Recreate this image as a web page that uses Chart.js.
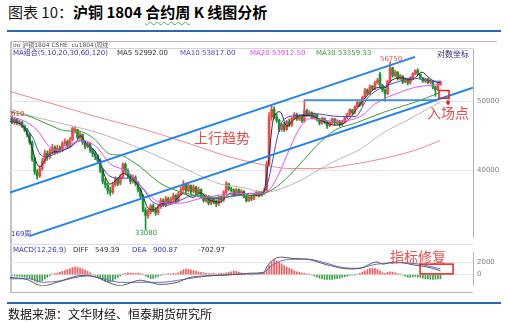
<!DOCTYPE html>
<html lang="zh-CN">
<head>
<meta charset="utf-8">
<title>沪铜 1804 合约周 K 线图分析</title>
<script src="https://cdn.jsdelivr.net/npm/chart.js@4.4.1/dist/chart.umd.min.js"></script>
<style>
  body { margin: 0; background: #fff; }
  #page { position: relative; width: 510px; height: 322px; overflow: hidden; font-family: "DejaVu Sans", "Noto Sans CJK SC", sans-serif; }
  #page > * { position: absolute; }
  #title { left: 8px; top: 2px; font-family: "Noto Sans CJK SC", sans-serif; font-size: 15px; line-height: 20px; color: #1a1a1a; white-space: nowrap; }
  #title b { font-weight: 700; color: #000; }
  #title u { text-decoration: underline wavy #4caf50; text-underline-offset: 3px; text-decoration-thickness: 1px; }
  .rule { left: 7px; width: 494px; height: 2px; background: #2f66ae; }
  .ln { background: #b8b8b8; }
  .lg { font-size: 7px; line-height: 8px; white-space: nowrap; }
  #source { left: 8px; top: 306px; font-family: "Noto Sans CJK SC", sans-serif; font-size: 12px; line-height: 16px; color: #111; }
</style>
</head>
<body>
<div id="page">
  <div id="title">图表 10：<b>沪铜 1804 <u>合约周</u> K 线图分析</b></div>
  <div class="rule" style="top:30px"></div>

  <!-- frame of the chart panel -->
  <div class="ln" style="left:10px;top:41px;width:487px;height:1px"></div>
  <div class="ln" style="left:10px;top:41px;width:2px;height:252px;background:#c4c4c4"></div>
  <div class="ln" style="left:10px;top:48px;width:463px;height:1px;background:#d4d4d4"></div>
  <div class="ln" style="left:10px;top:244px;width:463px;height:1px;background:#dedede"></div>
  <div class="ln" style="left:10px;top:292px;width:463px;height:1px"></div>

  <canvas id="priceChart" width="510" height="205" style="left:0;top:41px"></canvas>
  <canvas id="macdChart" width="510" height="50" style="left:0;top:244px"></canvas>

  <div class="lg" style="left:13px;top:41px;font-size:6px;color:#555">oo 沪铜1804 CSHE&nbsp; cu1804)周线</div>
  <div class="lg" style="left:13px;top:49px;color:#3535c0">MA组合(5,10,20,30,60,120)</div>
  <div class="lg" style="left:117px;top:49px;color:#333">MA5 52992.00</div>
  <div class="lg" style="left:180px;top:49px;color:#4a4ad0">MA10 53817.00</div>
  <div class="lg" style="left:250px;top:49px;color:#f040f0">MA20 53912.50</div>
  <div class="lg" style="left:316px;top:49px;color:#3a9a3a">MA30 53359.33</div>
  <div class="lg" style="left:437px;top:50px;font-size:8px;line-height:9px;color:#2a2a7a">对数坐标</div>

  <div class="lg" style="left:13px;top:246px;color:#3535c0">MACD(12,26,9)</div>
  <div class="lg" style="left:73px;top:246px;color:#333">DIFF</div>
  <div class="lg" style="left:95px;top:246px;color:#333">549.39</div>
  <div class="lg" style="left:132px;top:246px;color:#3535c0">DEA</div>
  <div class="lg" style="left:153px;top:246px;color:#3535c0">900.87</div>
  <div class="lg" style="left:198px;top:246px;color:#333">-702.97</div>

  <div class="rule" style="top:302px"></div>
  <div id="source">数据来源：文华财经、恒泰期货研究所</div>
</div>

<script>
// weekly candles of cu1804 (yuan/ton)
const opens = [
  47300,46800,47100,46600,46700,46100,45600,44900,43800,41500,
  39800,39300,40200,41200,42300,41800,42600,43100,42400,43000,
  42700,43600,43900,43300,44200,45500,45600,44500,44900,43800,
  43200,43600,42700,42200,41900,41300,40000,38600,38200,37500,
  37300,38200,38900,38400,39200,40800,39900,39300,38600,39100,
  38400,37600,36800,35200,34600,35000,35700,35300,34900,35600,
  36300,35800,36500,36100,36400,36900,36300,37100,37600,38300,
  37500,38100,37400,37900,37200,37600,36900,36300,36800,36000,
  36500,36200,35900,36700,36400,37300,38300,37700,37500,37000,
  37600,37100,37400,36800,36300,36700,36500,37000,37300,36900,
  37200,37500,40800,47500,48700,47500,47000,45600,46400,45600,
  46800,46300,47300,47900,47200,47600,46900,48500,47800,48200,
  47400,47900,47100,46600,47300,46800,46200,46700,47200,46600,
  46900,46400,46800,47400,47900,48600,48200,49100,49800,49400,
  50600,51800,51300,52400,52100,53000,54500,52600,51800,51200,
  53300,55600,54300,54900,53800,54200,53200,53600,53000,53900,
  54600,55200,54500,53900,53300,53700,53100,53300,52300,51900,
  52800
];
const highs = [
  47610,47400,47300,47000,46900,46300,45800,45100,44000,41800,
  40100,40600,41600,42700,42600,42900,43500,43300,43400,43300,
  43900,44300,44100,44500,46000,46100,45700,45300,45000,44000,
  43900,43700,42900,42500,42100,41500,40200,39000,38400,37900,
  38500,39200,39100,39500,41000,41000,40200,39500,39400,39300,
  38600,37800,37000,35500,35300,35900,35900,35500,35800,36600,
  36500,36800,36700,36700,37200,37000,37300,37900,38700,38400,
  38400,38200,38200,38000,37900,37700,37100,37000,36900,36700,
  36600,36400,36900,36800,37500,38600,38400,37900,37700,37800,
  37700,37600,37500,36900,36900,36800,37200,37500,37400,37400,
  37700,41200,48200,49300,49100,48000,47200,46600,46700,47000,
  47200,47500,48200,48100,47900,47800,50200,48700,48500,48300,
  48100,48000,47300,47500,47400,46900,46900,47400,47300,47100,
  47000,47000,47600,48100,48800,48700,49300,50000,49900,50800,
  52100,52000,52700,52600,53300,53800,54900,52800,52000,53500,
  56750,55800,55200,55000,54500,54300,53900,53700,54100,54800,
  55300,55500,54600,54000,53900,53800,53600,53400,52500,53000,
  53300
];
const lows = [
  46500,46400,46300,46200,45900,45300,44600,43500,41200,39500,
  38900,39100,40000,40900,41300,41500,42200,42100,42200,42400,
  42500,43300,43000,43100,44000,45100,44300,44200,43500,42900,
  43000,42400,41800,41400,40900,39700,38300,37800,37100,36900,
  37100,38000,38100,38200,39000,39600,39000,38300,38400,38100,
  37300,36500,35000,33080,34300,34800,35000,34600,34700,35400,
  35600,35600,35900,35900,36200,36000,36100,36900,37400,37200,
  37300,37100,37200,37000,37000,36700,36100,36100,35800,35800,
  35900,35600,35700,36100,36200,37100,37500,37300,36800,36900,
  36900,36900,36600,36100,36200,36300,36400,36800,36700,36800,
  37000,37400,40600,47000,47300,46700,45300,45400,45300,45500,
  46000,46100,47100,47000,47000,46700,46700,47600,47600,47200,
  47200,46900,46300,46400,46500,45800,46000,46500,46300,46400,
  46100,46200,46600,47200,47700,47900,48000,48900,49100,49300,
  50400,51000,51100,51800,51900,52800,52400,51500,50000,51000,
  53100,54000,54100,53500,53600,52900,53000,52700,52800,53700,
  54400,54300,53700,53100,53100,52900,52900,52000,50800,51700,
  52600
];
const closes = [
  46900,47200,46600,46700,46100,45600,44900,43800,41500,39800,
  39300,40200,41200,42300,41800,42600,43100,42400,43000,42700,
  43600,43900,43300,44200,45800,45600,44500,44900,43800,43200,
  43600,42700,42200,41900,41300,40000,38600,38200,37500,37300,
  38200,38900,38400,39200,40800,39900,39300,38600,39100,38400,
  37600,36800,35200,34600,35000,35700,35300,34900,35600,36300,
  35800,36500,36100,36400,36900,36300,37100,37600,38300,37500,
  38100,37400,37900,37200,37600,36900,36300,36800,36000,36500,
  36200,35900,36700,36400,37300,38300,37700,37500,37000,37600,
  37100,37400,36800,36300,36700,36500,37000,37300,36900,37200,
  37500,40800,47500,48700,47500,47000,45600,46400,45600,46800,
  46300,47300,47900,47200,47600,46900,48500,47800,48200,47400,
  47900,47100,46600,47300,46800,46200,46700,47200,46600,46900,
  46400,46800,47400,47900,48600,48200,49100,49800,49400,50600,
  51800,51300,52400,52100,53000,53500,52600,51800,51200,53300,
  55600,54300,54900,53800,54200,53200,53600,53000,53900,54600,
  55200,54500,53900,53300,53700,53100,53300,52300,51900,52800,
  53100
];

// moving averages as drawn, [week, price]
const ma5 = [[-0.8,46850],[4.4,46130],[7.1,44030],[9.9,40870],[11.1,40490],[13.9,41770],[16.3,42420],[20.2,42680],
  [25.8,44030],[27,44720],[29.8,43490],[33.7,42160],[36.9,39250],[38.9,38290],[41.7,38890],[44,39620],[46.8,39130],
  [50.8,37700],[54,35440],[56,35220],[59.9,35990],[63.9,36100],[67.9,37120],[71.8,36670],[74.6,37240],[78.6,36330],
  [82.5,36100],[86.5,37120],[90.5,36890],[91.7,37240],[94.4,36890],[99.6,37120],[101.6,40740],[103.6,46990],
  [106.3,48320],[109.1,46130],[111.5,46990],[114.3,47730],[118.3,47730],[123.4,46850],[128.2,46270],[133.3,46990],
  [137.3,49080],[141.3,51100],[145.2,52220],[148,52220],[150.8,53530],[154.8,53870],[158.7,53530],[162.7,54880],
  [165.1,54030],[167.9,53200],[170,53040]];
const ma10 = [[-0.8,47280],[4.4,46270],[8.3,44440],[11.1,42160],[13.9,41770],[17.9,42420],[23,43080],[27,44030],
  [31,43080],[34.9,40870],[38.9,39250],[42.9,39010],[46.8,39010],[52,37700],[56,36100],[61.5,35770],[66.7,36330],
  [71.8,36890],[77.4,36550],[82.5,36550],[87.7,36890],[93.3,37120],[99.6,37240],[107.5,46990],[113.1,47730],
  [119.4,48030],[130.2,47580],[136.1,47580],[141.3,50630],[146.8,52220],[153.2,53200],[158.7,53870],[163.9,53530],
  [169,53300],[170,53350]];
const ma20 = [[-0.8,47580],[4.4,46990],[9.9,45560],[15.1,43080],[19,42680],[23,43490],[28.2,44030],[33.7,43080],
  [38.9,40870],[44,40120],[46.8,39620],[48,39250],[53.6,37240],[58.7,36100],[66.7,35990],[74.6,36550],[81.3,36890],
  [90.5,37120],[99.6,37120],[118.3,47280],[128.2,46850],[138.9,47730],[144,49540],[154.8,51580],[161.1,52380],
  [167.9,52700],[170,52900]];
const ma30 = [[-0.8,48320],[7.1,47580],[15.1,46270],[21.8,45420],[25.8,45420],[32.1,44440],[38.9,42160],[42.9,42030],
  [46.8,41380],[50.8,40490],[58.7,38410],[65.5,37470],[73.4,36890],[82.5,36670],[90.5,36890],[99.6,37120],
  [128.2,45560],[136.1,46560],[148,48320],[161.1,50000],[167.9,51100],[170,51420]];
const ma60 = [[-0.8,48770],[7.1,47730],[21,46410],[32.9,45280],[42.9,44030],[56,42160],[69.4,40120],[82.5,38290],
  [92.5,37820],[99.2,37240],[111.5,38290],[127.4,41120],[138.1,42820],[147.2,45140],[156,46850],[169.8,49850]];
const ma120 = [[-0.8,51580],[19,49230],[36.1,47280],[52,45700],[66.7,44030],[86.5,41770],[99.6,40740],[110.3,40240],
  [121,40240],[134.1,40740],[150,41770],[159.9,42680],[169.8,44030]];

// trend lines drawn on the chart, [week, price]
const channelTop = [[-0.8,37250],[159.9,57660]];
const channelBottom = [[7.1,32400],[182.9,52210]];
const resistance = [[115.9,50170],[168.7,50170]];

// MACD(12,26,9)
const macdHist = [
  -150,-200,-250,-300,-350,-400,-450,
  -600,-850,-1050,-1200,-1150,-950,-700,-450,
  -200,50,
  150,250,350,500,650,800,950,1100,1200,1150,1050,900,
  700,500,300,100,
  -150,-400,-650,-900,-1100,-1220,-1150,-950,-700,-450,-200,
  100,200,300,250,200,150,250,150,50,
  -250,-450,-650,-600,-450,-300,-150,
  50,100,150,100,200,150,
  300,550,800,890,850,750,650,550,450,350,300,200,150,
  150,200,100,150,200,150,250,
  350,450,550,500,400,300,200,
  100,50,-50,50,100,50,
  150,250,
  800,1500,2000,2330,2200,1900,
  1700,1450,1200,1000,850,
  600,450,350,250,200,100,50,
  -100,-250,-400,-550,-650,-750,-780,-780,-750,-700,-650,-550,-450,-350,-250,-150,-100,-50,50,
  200,400,600,800,950,1000,950,800,600,
  300,
  200,350,440,400,300,150,
  50,
  -100,-250,-400,-440,-350,-300,
  -350,-450,-550,-650,-700,-780,-750,-720,-700,-703
];
const diffLine = [[-0.8,-444],[6,-777],[9.9,-1554],[12.3,-1776],[17.9,-1221],[25.8,-222],[29.8,-111],[33.7,-444],
  [38.9,-1332],[42.9,-1760],[46.8,-1332],[50.8,-888],[54.8,-1221],[58.7,-1554],[65.5,-1221],[70.6,-444],[75.8,-222],
  [83.7,-111],[91.7,111],[94.4,222],[99.6,333],[101.6,1554],[104.4,2553],[107.1,2775],[111.5,2553],[117.1,2442],
  [125,1554],[134.1,888],[138.1,999],[144.8,1998],[147.2,1665],[151.2,1998],[155.2,1887],[159.1,1554],[163.1,1332],
  [168.7,777],[170,549]];
const deaLine = [[-0.8,-666],[7.1,-666],[12.3,-1221],[19,-999],[29.8,-222],[36.1,-666],[42.9,-1221],[49.6,-1221],
  [58.7,-1221],[67.9,-777],[77.4,-222],[86.5,0],[94.4,111],[99.6,222],[102.4,1221],[106.3,2109],[111.5,2442],
  [117.5,2442],[125,1776],[131.3,1110],[136.9,999],[144.8,1665],[155.2,1887],[163.1,1554],[170,901]];

// axis settings
const priceTicks = [40000, 50000];
const macdTicks = [0, 2000];
const xMin = -0.79, xMax = 182.9;

const RED = '#f4474a', GREEN = '#16962c';

// draws text labels, boxes and small markers at data coordinates
function makeNotes(cfg) {
  return {
    id: 'notes',
    afterDatasetsDraw(chart) {
      const ctx = chart.ctx;
      const px = v => chart.scales.x.getPixelForValue(v);
      const py = v => chart.scales.y.getPixelForValue(v);
      ctx.save();
      (cfg.boxes || []).forEach(b => {
        ctx.strokeStyle = '#e62222';
        ctx.lineWidth = 1.5;
        ctx.strokeRect(px(b.x0), py(b.y0), px(b.x1) - px(b.x0), py(b.y1) - py(b.y0));
      });
      (cfg.marks || []).forEach(m => {
        const x = px(m.x), y = py(m.y);
        ctx.fillStyle = '#e62222';
        ctx.beginPath();
        ctx.moveTo(x, y - 3); ctx.lineTo(x + 2.2, y); ctx.lineTo(x, y + 3); ctx.lineTo(x - 2.2, y);
        ctx.closePath();
        ctx.fill();
      });
      (cfg.labels || []).forEach(t => {
        ctx.font = t.font;
        ctx.fillStyle = t.color;
        ctx.textAlign = t.align || 'center';
        ctx.textBaseline = 'middle';
        ctx.fillText(t.text, px(t.x), py(t.y));
      });
      ctx.restore();
    }
  };
}

const toXY = pts => pts.map(([x, y]) => ({ x, y }));
const curve = (pts, color, order) => ({
  type: 'line', data: toXY(pts), borderColor: color, borderWidth: 1,
  pointRadius: 0, cubicInterpolationMode: 'monotone', order: order || 10
});
const straight = (pts, color, width) => ({
  type: 'line', data: toXY(pts), borderColor: color, borderWidth: width,
  pointRadius: 0, order: 1
});

const weeks = closes.map((_, i) => i);
const candleColors = weeks.map(i => closes[i] >= opens[i] ? RED : GREEN);

const xScale = { type: 'linear', display: false, min: xMin, max: xMax, offset: false };
const rightAxis = (type, min, max, ticks) => ({
  type, position: 'right', min, max,
  afterBuildTicks: s => { s.ticks = ticks.map(v => ({ value: v })); },
  afterFit: s => { s.width = 37; },
  ticks: { color: '#808080', font: { size: 7, family: 'DejaVu Sans' }, padding: 4, autoSkip: false, callback: v => String(v) },
  grid: { color: '#e6e6e6', drawTicks: false },
  border: { color: '#b4b4b4' }
});

new Chart(document.getElementById('priceChart'), {
  type: 'bar',
  data: {
    datasets: [
      { type: 'bar', data: weeks.map(i => ({ x: i, y: [lows[i], highs[i]] })), backgroundColor: candleColors,
        barThickness: 1, grouped: false, order: 21 },
      { type: 'bar', data: weeks.map(i => ({ x: i, y: [Math.min(opens[i], closes[i]), Math.max(opens[i], closes[i])] })),
        backgroundColor: candleColors, barThickness: 2, minBarLength: 1, grouped: false, order: 20 },
      curve(ma120, '#f28a8a', 15),
      curve(ma60, '#b8b8b8', 15),
      curve(ma30, '#3c9c3c'),
      curve(ma20, '#f050f0'),
      curve(ma10, '#4b4bc8'),
      curve(ma5, '#2b2b2b'),
      straight(channelTop, '#2184ea', 2),
      straight(channelBottom, '#2184ea', 2),
      straight(resistance, '#3a8fe8', 1.8)
    ]
  },
  options: {
    responsive: false,
    animation: false,
    layout: { padding: { left: 10, top: 7, right: 0, bottom: 2 } },
    scales: {
      x: xScale,
      y: rightAxis('logarithmic', 32200, 59100, priceTicks)
    },
    plugins: { legend: { display: false }, tooltip: { enabled: false } }
  },
  plugins: [makeNotes({
    labels: [
      { text: '610', x: -0.4, y: 48000, color: '#e0403c', font: '7px "DejaVu Sans"', align: 'left' },
      { text: '169周', x: -0.4, y: 32600, color: '#3c3cc8', font: '7px "DejaVu Sans", "Noto Sans CJK SC"', align: 'left' },
      { text: '33080', x: 53.2, y: 32700, color: '#2f9a3a', font: '7px "DejaVu Sans"' },
      { text: '56750', x: 150.4, y: 57140, color: '#e45a5a', font: '7px "DejaVu Sans"' },
      { text: '上行趋势', x: 83.3, y: 44510, color: '#ef4b4b', font: '14px "Noto Sans CJK SC"' },
      { text: '入场点', x: 173, y: 48100, color: '#ef4b4b', font: '14px "Noto Sans CJK SC"' }
    ],
    boxes: [{ x0: 169.4, x1: 173.4, y0: 51735, y1: 50465 }],
    marks: [{ x: 173, y: 49770 }]
  })]
});

new Chart(document.getElementById('macdChart'), {
  type: 'bar',
  data: {
    datasets: [
      { type: 'bar', data: macdHist.map((v, i) => ({ x: i, y: v })),
        backgroundColor: macdHist.map(v => v >= 0 ? '#f25b5b' : '#3ea34a'),
        barThickness: 1, grouped: false, order: 20 },
      curve(diffLine, '#5a5a5a'),
      curve(deaLine, '#6b6bd6')
    ]
  },
  options: {
    responsive: false,
    animation: false,
    layout: { padding: { left: 10, top: 0, right: 0, bottom: 2 } },
    scales: {
      x: xScale,
      y: rightAxis('linear', -1778, 3556, macdTicks)
    },
    plugins: { legend: { display: false }, tooltip: { enabled: false } }
  },
  plugins: [makeNotes({
    labels: [{ text: '指标修复', x: 161.1, y: 2775, color: '#ef4b4b', font: '14px "Noto Sans CJK SC"' }],
    boxes: [{ x0: 161.9, x1: 175, y0: 1665, y1: 111 }]
  })]
});
</script>
</body>
</html>
